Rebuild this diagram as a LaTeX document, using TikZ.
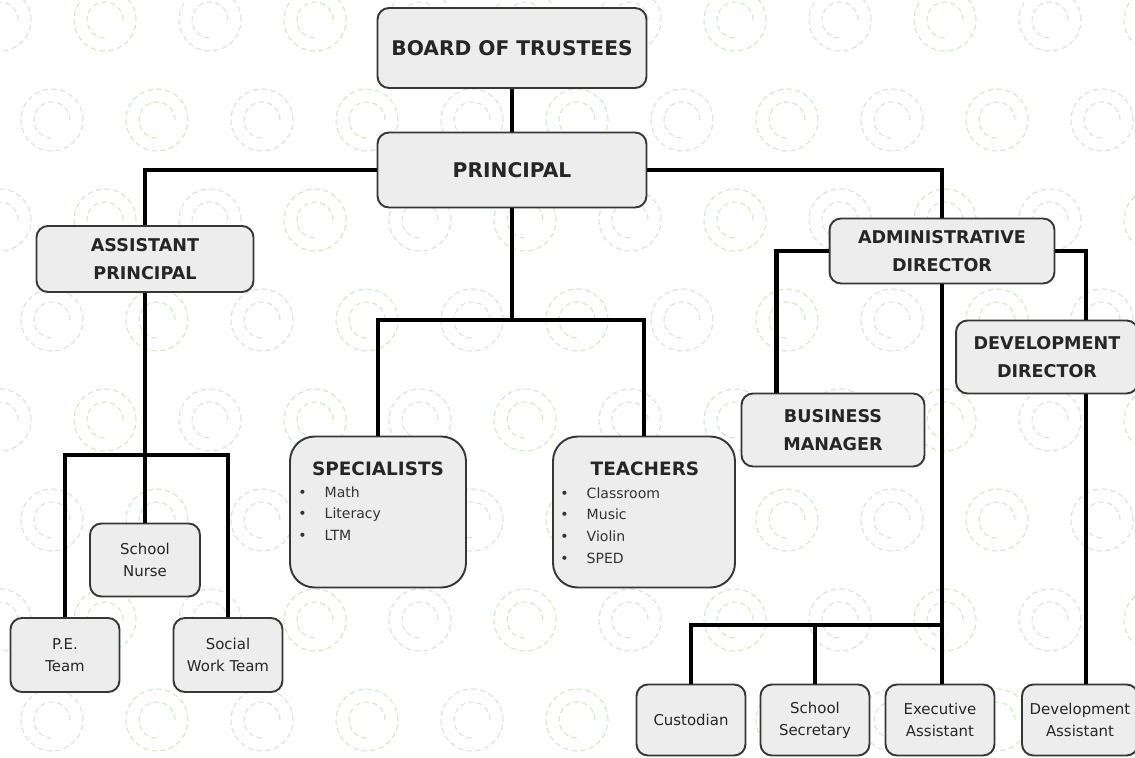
\documentclass[tikz,border=0pt]{standalone}
\usepackage{fontspec}
\setmainfont{DejaVu Sans}
\usetikzlibrary{calc}
\definecolor{boxfill}{RGB}{237,237,237}
\definecolor{boxline}{RGB}{55,55,55}
\definecolor{swirlgray}{RGB}{222,222,222}
\definecolor{swirlgreen}{RGB}{210,230,200}
\tikzset{
  box/.style={draw=boxline, fill=boxfill, line width=1.1pt, rounded corners=6.5pt, align=center, inner sep=0pt, text=black!85},
  topbox/.style={box, font=\bfseries\fontsize{11.5}{14}\selectfont},
  headbox/.style={box, font=\bfseries\fontsize{10}{16}\selectfont},
  staffbox/.style={box, font=\fontsize{8.5}{12.5}\selectfont},
  groupbox/.style={box, rounded corners=14pt},
  grouptitle/.style={inner sep=0pt, text=black!85, font=\bfseries\fontsize{10.5}{12}\selectfont},
  grouplist/.style={inner sep=0pt, anchor=north west, align=left, text=black!80, font=\fontsize{8}{12.5}\selectfont},
  link/.style={draw, line width=2.6pt, black},
  swirl/.style={densely dashed, line width=0.6pt}
}
\newcommand{\bul}{\makebox[15pt][l]{\textbullet}}
\begin{document}
\begin{tikzpicture}[x=0.02cm, y=-0.02cm]
\useasboundingbox (0,0) rectangle (1135,757);
\fill[white] (0,0) rectangle (1135,757);
% background swirls
\foreach \i in {0,...,11}{
  \foreach \j in {0,...,7}{
    \pgfmathsetmacro{\sx}{\i*105+mod(\j,2)*52}
    \pgfmathsetmacro{\sy}{\j*100+20}
    \ifodd\i \def\sc{swirlgreen}\else \def\sc{swirlgray}\fi
    \draw[swirl, \sc] (\sx,\sy) circle[radius=0.62cm];
    \draw[swirl, \sc] (\sx,\sy) ++(0.36cm,0) arc[start angle=0, end angle=270, radius=0.36cm];
  }
}

% top
\node[topbox, minimum width=5.38cm, minimum height=1.6cm] (board) at (512,48) {BOARD OF TRUSTEES};
\node[topbox, minimum width=5.38cm, minimum height=1.5cm] (principal) at (512,170) {PRINCIPAL};

% second level
\node[headbox, minimum width=4.34cm, minimum height=1.32cm] (asst) at (145,259) {ASSISTANT\\PRINCIPAL};
\node[headbox, minimum width=4.5cm, minimum height=1.3cm] (admin) at (942,251) {ADMINISTRATIVE\\DIRECTOR};
\node[headbox, minimum width=3.64cm, minimum height=1.46cm] (devdir) at (1047,357) {DEVELOPMENT\\DIRECTOR};
\node[headbox, minimum width=3.66cm, minimum height=1.46cm] (business) at (833,430) {BUSINESS\\MANAGER};

% groups
\node[groupbox, minimum width=3.52cm, minimum height=3.02cm] (spec) at (378,512) {};
\node[grouptitle] (spectitle) at (378,469) {SPECIALISTS};
\node[grouplist] (speclist) at (298,486) {\bul Math\\\bul Literacy\\\bul LTM};
\node[groupbox, minimum width=3.64cm, minimum height=3.02cm] (teach) at (644,512) {};
\node[grouptitle] (teachtitle) at (645,469) {TEACHERS};
\node[grouplist] (teachlist) at (560,487) {\bul Classroom\\\bul Music\\\bul Violin\\\bul SPED};

% staff
\node[staffbox, minimum width=2.2cm, minimum height=1.46cm] (nurse) at (145,560) {School\\Nurse};
\node[staffbox, minimum width=2.18cm, minimum height=1.48cm] (pe) at (65,655) {P.E.\\Team};
\node[staffbox, minimum width=2.18cm, minimum height=1.48cm] (social) at (228,655) {Social\\Work Team};
\node[staffbox, minimum width=2.18cm, minimum height=1.42cm] (cust) at (691,720) {Custodian};
\node[staffbox, minimum width=2.18cm, minimum height=1.42cm] (secr) at (815,720) {School\\Secretary};
\node[staffbox, minimum width=2.18cm, minimum height=1.42cm] (exec) at (940,720) {Executive\\Assistant};
\node[staffbox, minimum width=2.32cm, minimum height=1.42cm] (devasst) at (1080,720) {Development\\Assistant};

\coordinate (pjoin) at (512,320);
\coordinate (ajoin) at (145,455);
\coordinate (djoin) at (942,625);
\coordinate (ddlink) at ([xshift=0.78cm]devdir.north);

\path[link] (board) -- (principal);
\path[link] (principal.west) -| (asst.north);
\path[link] (principal.east) -| (admin.north);
\path[link] (principal.south) -- (pjoin);
\path[link] (spec.north) |- (pjoin) -| (teach.north);
\path[link] (asst.south) -- (nurse.north);
\path[link] (pe.north) |- (ajoin) -| (social.north);
\path[link] (admin.west) -| ([xshift=0.72cm]business.north west);
\path[link] (admin.east) -| (ddlink);
\path[link] ([xshift=0.78cm]devdir.south) -- ([xshift=0.78cm]devdir.south |- devasst.north);
\path[link] (admin.south) -- (admin.south |- exec.north);
\path[link] (cust.north) |- (djoin);
\path[link] (secr.north) -- (secr.north |- djoin);
\end{tikzpicture}
\end{document}
